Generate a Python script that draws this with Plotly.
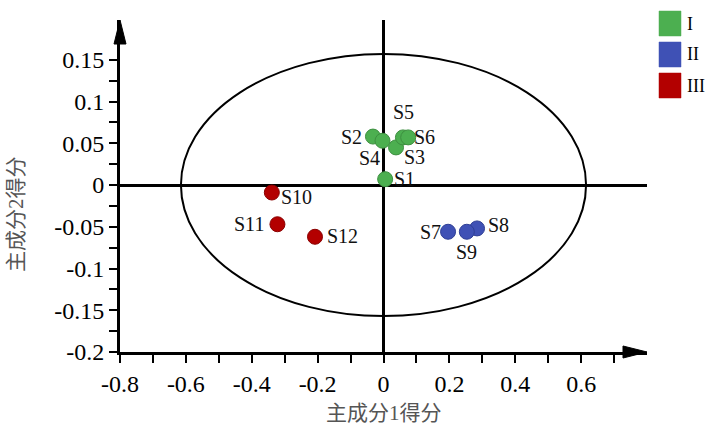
import plotly.graph_objects as go

# PCA scores (PC1, PC2) for the twelve samples, grouped by cluster
groups = ["I", "II", "III"]
group_colors = ["#4caf50", "#3f51b5", "#b30000"]
group_edges = ["#3d8f40", "#2f3f95", "#8a0000"]

names_I = ["S1", "S2", "S3", "S4", "S5", "S6"]
pc1_I = [0.005, -0.032, 0.038, -0.003, 0.059, 0.075]
pc2_I = [0.007, 0.058, 0.045, 0.053, 0.057, 0.057]

names_II = ["S7", "S8", "S9"]
pc1_II = [0.196, 0.284, 0.253]
pc2_II = [-0.056, -0.052, -0.056]

names_III = ["S10", "S11", "S12"]
pc1_III = [-0.339, -0.322, -0.208]
pc2_III = [-0.009, -0.047, -0.062]

# confidence ellipse half-axes
ellipse_rx = 0.615
ellipse_ry = 0.157

# axis ticks
x_tickvals = [round(-0.8 + 0.1 * i, 1) for i in range(16)]
x_ticktext = ["-0.8", "", "-0.6", "", "-0.4", "", "-0.2", "", "0", "", "0.2", "", "0.4", "", "0.6", ""]
y_tickvals = [round(-0.2 + 0.025 * i, 3) for i in range(15)]
y_ticktext = ["-0.2", "", "-0.15", "", "-0.1", "", "-0.05", "", "0", "", "0.05", "", "0.1", "", "0.15"]

x_title = "主成分1得分"
y_title = "主成分2得分"

# sample label placement: (anchor, x offset px, y offset px)
label_style = {
    "S1": ("left", 8, 0), "S2": ("right", -10, 0), "S3": ("left", 7, -10),
    "S4": ("right", -2, -17), "S5": ("center", 1, 25), "S6": ("left", 5, 0),
    "S7": ("right", -6, 0), "S8": ("left", 10, 3), "S9": ("center", 0, -20),
    "S10": ("left", 8, -4), "S11": ("right", -12, 0), "S12": ("left", 11, 1),
}

W, H = 706, 425
ml, mr, mt, mb = 120, 59, 20, 73
pw, ph = W - ml - mr, H - mt - mb
x_range = [-0.8, 0.8]
y_range = [-0.2, 0.1976]

serif = "Liberation Serif, Times New Roman, serif"
cjk = "Liberation Serif, Noto Sans CJK SC, serif"

fig = go.Figure()
annotations = []
series = [
    (names_I, pc1_I, pc2_I),
    (names_II, pc1_II, pc2_II),
    (names_III, pc1_III, pc2_III),
]
for (nm, xs, ys), g, c, e in zip(series, groups, group_colors, group_edges):
    fig.add_trace(go.Scatter(
        x=xs, y=ys, mode="markers", name=g,
        marker=dict(size=15, color=c, line=dict(color=e, width=1)),
        showlegend=False, cliponaxis=False,
    ))
    for n, xv, yv in zip(nm, xs, ys):
        anchor, dx, dy = label_style[n]
        annotations.append(dict(xref="x", yref="y", x=xv, y=yv, text=n, showarrow=False,
                                xanchor=anchor, yanchor="middle", xshift=dx, yshift=dy,
                                borderpad=0,
                                font=dict(family=serif, size=20, color="#111")))

shapes = []
# ellipse
shapes.append(dict(type="circle", xref="x", yref="y",
                   x0=-ellipse_rx, x1=ellipse_rx, y0=-ellipse_ry, y1=ellipse_ry,
                   line=dict(color="black", width=2), layer="below"))
# arrow heads on the axes (paper coordinates so they are not clipped)
ah_len, ah_half = 24, 6
shapes.append(dict(type="path", xref="paper", yref="paper",
                   path=f"M {-ah_half / pw} {1 - ah_len / ph} L 0 1 L {ah_half / pw} {1 - ah_len / ph} Z",
                   fillcolor="black", line=dict(color="black", width=1)))
shapes.append(dict(type="path", xref="paper", yref="paper",
                   path=f"M {1 - ah_len / pw} {-ah_half / ph} L 1 0 L {1 - ah_len / pw} {ah_half / ph} Z",
                   fillcolor="black", line=dict(color="black", width=1)))

# legend: colored squares with roman-numeral labels
for i, (g, c) in enumerate(zip(groups, group_colors)):
    top = 11 + 31 * i
    shapes.append(dict(type="rect", xref="paper", yref="paper",
                       x0=(659 - ml) / pw, x1=(681 - ml) / pw,
                       y0=1 - (top + 25 - mt) / ph, y1=1 - (top - mt) / ph,
                       fillcolor=c, line=dict(color=c, width=0.5)))
    annotations.append(dict(xref="paper", yref="paper",
                            x=(685 - ml) / pw, y=1 - (top + 12.5 - mt) / ph,
                            text=g, showarrow=False, xanchor="left", yanchor="middle",
                            font=dict(family=serif, size=18, color="black")))

annotations.append(dict(xref="paper", yref="paper", x=0.5, y=0, yshift=-(413 - (H - mb)),
                        text=x_title, showarrow=False, xanchor="center", yanchor="middle",
                        font=dict(family=cjk, size=21, color="#555")))
annotations.append(dict(xref="paper", yref="paper", x=0, xshift=-(ml - 16),
                        y=1 - (214 - mt) / ph,
                        text=y_title, textangle=-90, showarrow=False, xanchor="center", yanchor="middle",
                        font=dict(family=cjk, size=21, color="#555")))

axis_common = dict(showgrid=False, showline=True, linecolor="black", linewidth=3,
                   ticks="outside", ticklen=8, tickwidth=2, tickcolor="black",
                   zeroline=True, zerolinecolor="black", zerolinewidth=2.5,
                   tickfont=dict(family=serif, size=24, color="black"))

fig.update_layout(
    width=W, height=H,
    margin=dict(l=ml, r=mr, t=mt, b=mb),
    paper_bgcolor="white", plot_bgcolor="white",
    xaxis=dict(range=x_range, tickvals=x_tickvals, ticktext=x_ticktext, **axis_common),
    yaxis=dict(range=y_range, tickvals=y_tickvals, ticktext=y_ticktext, **axis_common),
    shapes=shapes, annotations=annotations, showlegend=False,
)

fig.write_html("out.html")
